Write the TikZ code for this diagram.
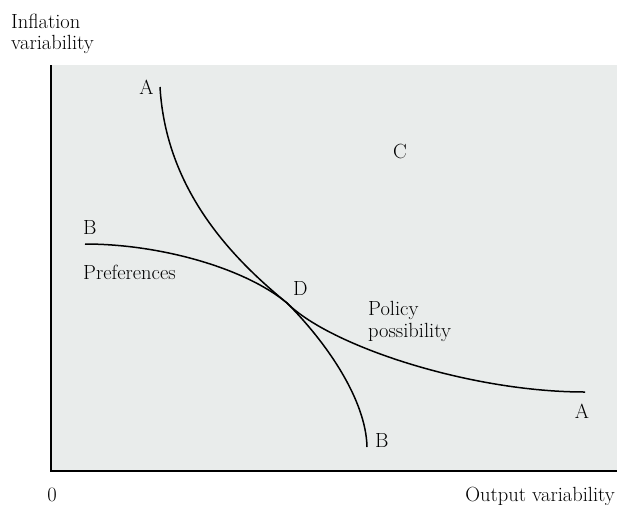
\documentclass[tikz,border=0pt]{standalone}
\definecolor{bgshade}{RGB}{233,236,235}
\tikzset{
  lbl/.style={inner sep=0pt, font=\fontsize{20.5}{22}\selectfont},
  curve/.style={line width=1.5pt, black},
  axis/.style={line width=2pt, black}
}
\begin{document}
\begin{tikzpicture}[x=1pt,y=-1pt]
\useasboundingbox (0,0) rectangle (617,504);
\fill[fill=bgshade] (50.5,65) rectangle (617,470.5);
\coordinate (top) at (50.5,65);
\coordinate (origin) at (50.5,470.5);
\coordinate (right) at (617,470.5);
\draw[axis, line cap=butt] (top) -- (origin) -- (right);
% curve A (policy possibility)
\coordinate (A1) at (160,87);
\coordinate (D0) at (287,303);
\coordinate (A2) at (585,392);
\draw[curve] (A1) .. controls (166,190) and (232,258) .. (D0)
  .. controls (330,346) and (470,392) .. (A2);
% curve B (preferences)
\coordinate (B1) at (85,244);
\coordinate (B2) at (367,447);
\draw[curve] (B1) .. controls (160,244) and (245,268) .. (D0)
  .. controls (327,343) and (366,400) .. (B2);
% labels
\node[lbl, anchor=base west] (infl) at (11,28) {Inflation};
\node[lbl, anchor=base west] (vari) at (11,49) {variability};
\node[lbl, anchor=base] (lA1) at (146.5,94) {A};
\node[lbl, anchor=base] (lC) at (400,158) {C};
\node[lbl, anchor=base west] (lB1) at (83,234) {B};
\node[lbl, anchor=base west] (pref) at (83,279) {Preferences};
\node[lbl, anchor=base west] (lD) at (293,295) {D};
\node[lbl, anchor=base west] (pol) at (368,315) {Policy};
\node[lbl, anchor=base west] (poss) at (368,337) {possibility};
\node[lbl, anchor=base] (lA2) at (582,418) {A};
\node[lbl, anchor=base west] (lB2) at (375,447) {B};
\node[lbl, anchor=base] (zero) at (52,501) {0};
\node[lbl, anchor=base east] (outv) at (615,501) {Output variability};
\end{tikzpicture}
\end{document}
